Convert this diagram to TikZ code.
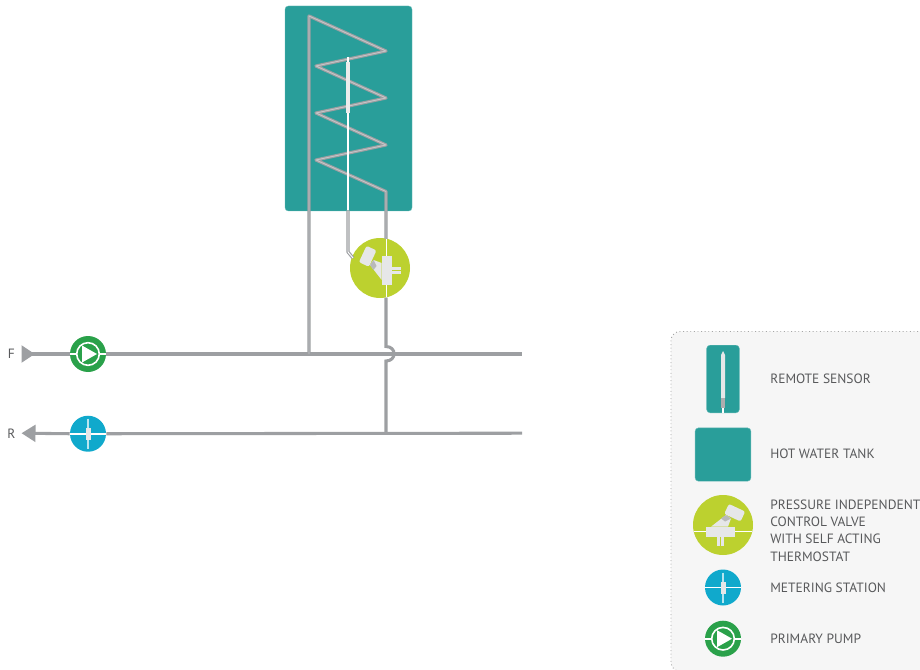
\documentclass[tikz,border=0pt]{standalone}
\usepackage{fontspec}
\setmainfont{PT Sans}
\usepackage{xcolor}
\usetikzlibrary{shapes.geometric, arrows.meta, positioning}
\definecolor{tankteal}{HTML}{299E9A}
\definecolor{valvelime}{HTML}{BCD12F}
\definecolor{meterblue}{HTML}{10A9CC}
\definecolor{pumpgreen}{HTML}{2AA14A}
\definecolor{pipegray}{HTML}{9D9FA2}
\definecolor{pipecore}{HTML}{C4C6C8}
\definecolor{iconlight}{HTML}{E6E7E8}
\definecolor{labelgray}{HTML}{58595B}
\definecolor{panelfill}{HTML}{F6F6F6}
\tikzset{
  pipe/.style={draw=pipegray, line width=2.3pt},
  coilpipe/.style={draw=pipegray, line width=.85pt, double=pipecore,
                   double distance=.7pt, line join=round},
  tankbox/.style={rectangle, rounded corners=2.5pt, fill=tankteal,
                  draw=tankteal!70, line width=.3pt, inner sep=0pt},
  legendtext/.style={anchor=west, inner sep=0pt, align=left, text=labelgray,
                     font=\fontsize{10.1pt}{13pt}\selectfont},
  flowtext/.style={text=labelgray, inner sep=0pt, font=\fontsize{10.1pt}{13pt}\selectfont},
  pumpnode/.style={circle, fill=pumpgreen, minimum size=27pt, inner sep=0pt,
    path picture={
      \begin{scope}[shift={(path picture bounding box.center)}]
        \draw[white, line width=1.2pt] (-18,0) -- (18,0);
        \draw[white, line width=1.2pt, fill=pumpgreen] (0,0) circle (11.3);
        \fill[white] (-6,-8.5) -- (9,0) -- (-6,8.5) -- cycle;
      \end{scope}}},
  meternode/.style={circle, fill=meterblue, minimum size=27pt, inner sep=0pt,
    path picture={
      \begin{scope}[shift={(path picture bounding box.center)}]
        \draw[white!70!meterblue, line width=.9pt] (0,-15) -- (0,15);
        \draw[white, line width=1.2pt] (-18,0) -- (18,0);
        \fill[iconlight] (-2.5,-6) rectangle (2.5,6);
      \end{scope}}},
  valvenode/.style={circle, fill=valvelime, minimum size=45pt, inner sep=0pt},
  valveicon/.pic={
    \draw[white, line width=1.3pt] (-29.3,6.6) -- (29.3,6.6);
    \fill[iconlight] (-12,1.7) -- (5,1.7) -- (8,-6.5) -- (3,-10) -- cycle;
    \fill[iconlight!80!black] (2,-3.5) -- (8,-6.5) -- (3,-10) -- (-2,-6.5) -- cycle;
    \fill[iconlight] (-16.7,1.7) rectangle (11.7,11.7);
    \fill[iconlight] (-6,11.7) rectangle (-3,21);
    \fill[iconlight] (-2,11.7) rectangle (1.2,21);
    \fill[iconlight, rounded corners=1.5pt, shift={(11.7,-12.3)}, rotate=-25]
      (-9,-5.5) rectangle (9,5.5);
  }
}

\begin{document}
\begin{tikzpicture}[x=.75pt, y=-.75pt, node distance=10pt]
  \useasboundingbox (0,0) rectangle (920,670);
  \clip (0,0) rectangle (920,670);

  % legend panel
  \node[rectangle, rounded corners=7pt, draw=gray!70, dotted, fill=panelfill,
        line width=.7pt, minimum width=195pt, minimum height=255pt, anchor=north west]
        (panel) at (670.5,331) {};

  % main plant
  \node[tankbox, minimum width=95.25pt, minimum height=153.75pt] (tank) at (348.5,108.5) {};
  \node[valvenode] (valve) at (380,268) {};
  \pic[rotate=90] at (valve.center) {valveicon};
  \node[pumpnode] (pump) at (88,354) {};
  \node[meternode, below=32.4pt of pump] (meter) {};
  \node[flowtext, left=5.5pt of pump.west, xshift=-35.5pt] (flowF) {F};
  \node[flowtext, left=5.5pt of meter.west, xshift=-35pt] (flowR) {R};

  \coordinate (fin) at (21.5,354);
  \coordinate (fout) at (522,354);
  \coordinate (rend) at (21.5,433.2);
  \coordinate (rout) at (522,433.2);
  \coordinate (ftee) at (309,354);
  \coordinate (rtee) at (386,433.2);
  \coordinate (vin) at (386,239);
  \coordinate (vout) at (386,297.5);
  \coordinate (hopin) at (386,346.5);
  \coordinate (hopout) at (386,361);
  \coordinate (probetop) at (348,57);
  \coordinate (probeend) at (348,113);
  \coordinate (capexit) at (348,210.5);
  \coordinate (capbend) at (348,252);
  \coordinate (capin) at (353,258);

  % primary pipework
  \draw[pipe, {Triangle[reversed, length=10pt, width=12.5pt]}-] (fin) -- (pump.west);
  \draw[pipe] (pump.east) -- (fout);
  \draw[pipe, -{Triangle[length=10.5pt, width=12.5pt]}] (meter.west) -- (rend);
  \draw[pipe] (meter.east) -- (rout);
  \draw[pipe] (vout) -- (hopin) to[out=0, in=0, looseness=1.9] (hopout) -- (rtee);

  % coil and remote sensor
  \draw[coilpipe] (ftee) -- (309,16) -- (386,51) -- (316,66) -- (386,98) -- (316,113)
    -- (386,145) -- (316,160) -- (386,191.5) -- (vin);
  \draw[white, line width=1.1pt] (probetop) -- (capexit);
  \draw[white!85!gray, line width=2.4pt] (348,62) -- (probeend);
  \draw[coilpipe, double=white] (capexit) -- (capbend) -- (capin);

  % legend
  \node[tankbox, minimum width=24.5pt, minimum height=50.7pt] (keysensor) at (723,379) {};
  \fill[iconlight] (721,398) -- (721,355) -- (723,351) -- (725,355) -- (725,398) -- cycle;
  \fill[iconlight!75!black] (721,398) rectangle (725,408);
  \draw[white, line width=1pt] (723,408) -- (keysensor.south);
  \node[tankbox, minimum width=41.8pt, minimum height=40pt, below=11pt of keysensor] (keytank) {};
  \node[valvenode] (keyvalve) at (723,525) {};
  \pic at (keyvalve.center) {valveicon};
  \node[meternode] (keymeter) at (723,587.5) {};
  \node[pumpnode, below=11pt of keymeter] (keypump) {};

  \node[legendtext] (textsensor) at (770,379) {REMOTE SENSOR};
  \node[legendtext] (texttank) at (770,454) {HOT WATER TANK};
  \node[legendtext] (textvalve) at (770,530.5) {PRESSURE INDEPENDENT\\CONTROL VALVE\\WITH SELF ACTING\\THERMOSTAT};
  \node[legendtext] (textmeter) at (770,588) {METERING STATION};
  \node[legendtext] (textpump) at (770,639) {PRIMARY PUMP};
\end{tikzpicture}
\end{document}
